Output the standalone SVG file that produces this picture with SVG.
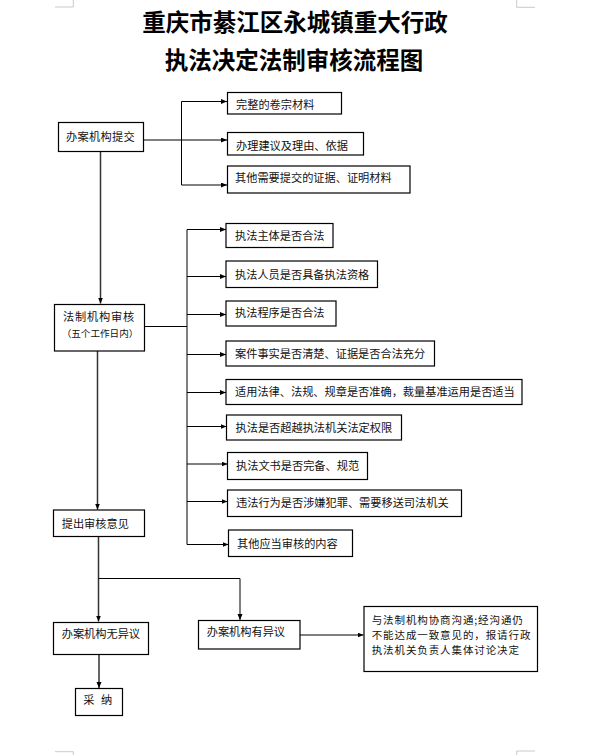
<svg xmlns="http://www.w3.org/2000/svg" width="592" height="755" viewBox="0 0 592 755">
<style>
.box{fill:#fff;stroke:#000;stroke-width:1.2}
.t{font-family:"Noto Sans CJK SC","Liberation Sans",sans-serif;font-size:11.2px;fill:#111}
.d{font-size:10.5px;letter-spacing:0.9px}
.title{font-family:"Noto Sans CJK SC","Liberation Sans",sans-serif;font-size:23.5px;font-weight:700;fill:#000;text-anchor:middle}
.ln{fill:none;stroke:#000;stroke-width:1}
.main{fill:none;stroke:#333;stroke-width:1.5}
.mark{fill:none;stroke:#bbb;stroke-width:0.8}
</style>
<defs>
<marker id="ah" markerUnits="userSpaceOnUse" markerWidth="7" markerHeight="6" refX="6" refY="2.5" orient="auto">
<path d="M0,0 L6,2.5 L0,5 z" fill="#000"/>
</marker>
</defs>
<rect width="592" height="755" fill="#fff"/>
<g id="corner-marks">
<path class="mark" d="M55,7 H73.3 V0 M516.7,0 V7.3 H535 M55,751.7 H73.3 V755 M516.7,755 V751 H535"/>
</g>
<g id="title">
<text class="title" x="295" y="31">重庆市綦江区永城镇重大行政</text>
<text class="title" x="294" y="69">执法决定法制审核流程图</text>
</g>
<g id="connectors">
<path class="ln" d="M143.5,140 H181.5"/>
<path class="ln" d="M181.5,101.5 V185"/>
<path class="ln" d="M181.5,101.5 H227" marker-end="url(#ah)"/>
<path class="ln" d="M181.5,140 H227" marker-end="url(#ah)"/>
<path class="ln" d="M181.5,185 H227" marker-end="url(#ah)"/>
<path class="main" d="M100.5,151.5 V303.5" marker-end="url(#ah)"/>
<path class="ln" d="M144.5,326.5 H187"/>
<path class="ln" d="M187,229.5 V544.5"/>
<path class="ln" d="M187,229.5 H226" marker-end="url(#ah)"/>
<path class="ln" d="M187,276.5 H226" marker-end="url(#ah)"/>
<path class="ln" d="M187,314.5 H226" marker-end="url(#ah)"/>
<path class="ln" d="M187,354.5 H226" marker-end="url(#ah)"/>
<path class="ln" d="M187,392.5 H226" marker-end="url(#ah)"/>
<path class="ln" d="M187,426.5 H226.5" marker-end="url(#ah)"/>
<path class="ln" d="M187,464 H227.5" marker-end="url(#ah)"/>
<path class="ln" d="M187,501.5 H227.5" marker-end="url(#ah)"/>
<path class="ln" d="M187,544.5 H228.5" marker-end="url(#ah)"/>
<path class="main" d="M97.5,351 V509.5" marker-end="url(#ah)"/>
<path class="main" d="M98.5,536.5 V621.5" marker-end="url(#ah)"/>
<path class="ln" d="M98.5,578.5 H240 V620" marker-end="url(#ah)"/>
<path class="main" d="M99,654.5 V688" marker-end="url(#ah)"/>
<path class="ln" d="M300,635 H363.5" marker-end="url(#ah)"/>
</g>
<g id="submit">
<rect class="box" x="58.5" y="122.5" width="85" height="29"/>
<text class="t" x="66" y="141.2" letter-spacing="0.3">办案机构提交</text>
</g>
<g id="m1">
<rect class="box" x="227.5" y="92.5" width="114" height="21.5"/>
<text class="t" x="236" y="108.8">完整的卷宗材料</text>
</g>
<g id="m2">
<rect class="box" x="227.5" y="132.5" width="136" height="22.5"/>
<text class="t" x="236" y="149.8">办理建议及理由、依据</text>
</g>
<g id="m3">
<rect class="box" x="227.5" y="166" width="182.5" height="27"/>
<text class="t" x="235" y="181.7">其他需要提交的证据、证明材料</text>
</g>
<g id="review">
<rect class="box" x="54.5" y="304.5" width="90" height="46.5"/>
<text class="t" x="99" y="321" text-anchor="middle" letter-spacing="0.8">法制机构审核</text>
<text class="t" x="100" y="337" text-anchor="middle" style="font-size:9.6px">（五个工作日内）</text>
</g>
<g id="c1">
<rect class="box" x="226" y="223.5" width="107" height="24"/>
<text class="t" x="235" y="239.6">执法主体是否合法</text>
</g>
<g id="c2">
<rect class="box" x="226" y="261" width="151.5" height="26.5"/>
<text class="t" x="235" y="278.8">执法人员是否具备执法资格</text>
</g>
<g id="c3">
<rect class="box" x="226" y="301" width="110" height="25"/>
<text class="t" x="235" y="317">执法程序是否合法</text>
</g>
<g id="c4">
<rect class="box" x="226" y="341" width="208.5" height="25"/>
<text class="t" x="235" y="357.7">案件事实是否清楚、证据是否合法充分</text>
</g>
<g id="c5">
<rect class="box" x="226" y="379.5" width="296" height="25"/>
<text class="t" x="235" y="395.7">适用法律、法规、规章是否准确，裁量基准运用是否适当</text>
</g>
<g id="c6">
<rect class="box" x="226.5" y="415" width="175" height="25"/>
<text class="t" x="235.5" y="431.7">执法是否超越执法机关法定权限</text>
</g>
<g id="c7">
<rect class="box" x="227.5" y="452.5" width="140" height="27"/>
<text class="t" x="236" y="469.7">执法文书是否完备、规范</text>
</g>
<g id="c8">
<rect class="box" x="227.5" y="490" width="234" height="26.5"/>
<text class="t" x="236" y="507.2">违法行为是否涉嫌犯罪、需要移送司法机关</text>
</g>
<g id="c9">
<rect class="box" x="228.5" y="530" width="124" height="26.5"/>
<text class="t" x="237" y="547.5">其他应当审核的内容</text>
</g>
<g id="opinion">
<rect class="box" x="53.5" y="510" width="91" height="26.5"/>
<text class="t" x="61.7" y="527.5">提出审核意见</text>
</g>
<g id="noobj">
<rect class="box" x="53.5" y="622.5" width="95" height="32"/>
<text class="t" x="61.7" y="637.5">办案机构无异议</text>
</g>
<g id="yesobj">
<rect class="box" x="198.5" y="620.5" width="101.5" height="28.5"/>
<text class="t" x="206.7" y="636">办案机构有异议</text>
</g>
<g id="accept">
<rect class="box" x="75.5" y="688.5" width="47" height="27"/>
<text class="t" x="83.3" y="704.2" letter-spacing="2">采 纳</text>
</g>
<g id="decide">
<rect class="box" x="364" y="606.5" width="173.5" height="65"/>
<text class="t d" x="371.7" y="623.8">与法制机构协商沟通;经沟通仍</text>
<text class="t d" x="371.7" y="639.1">不能达成一致意见的，报请行政</text>
<text class="t d" x="371.7" y="654.4">执法机关负责人集体讨论决定</text>
</g>
</svg>
